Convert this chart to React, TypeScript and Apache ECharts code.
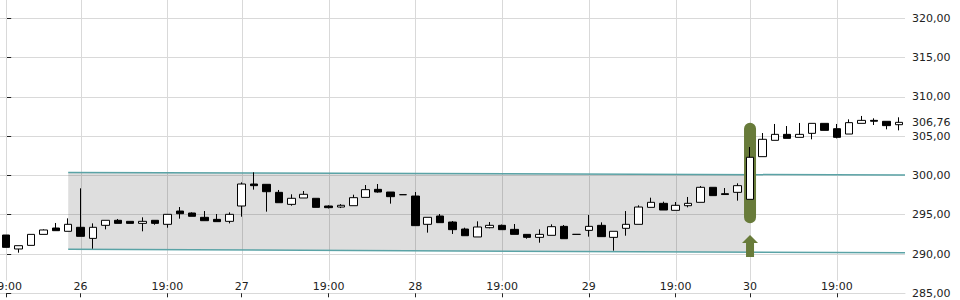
import React, { useEffect, useRef } from 'react';
import * as echarts from 'echarts';

// [open, close, low, high]
const candles: number[][] = [
  [292.42, 290.85, 290.85, 292.42],
  [290.64, 291.06, 290.17, 291.06],
  [291.10, 292.50, 291.10, 292.50],
  [292.50, 293.06, 292.50, 293.14],
  [293.31, 292.97, 292.97, 293.95],
  [292.89, 293.78, 292.89, 294.54],
  [293.40, 292.25, 292.25, 298.36],
  [291.99, 293.40, 290.68, 293.90],
  [293.65, 294.29, 293.14, 294.29],
  [294.29, 293.90, 293.90, 294.46],
  [294.16, 293.90, 293.90, 294.16],
  [293.90, 294.16, 292.89, 294.67],
  [294.29, 293.90, 293.73, 294.29],
  [293.78, 295.05, 293.35, 295.05],
  [295.47, 295.13, 294.50, 295.98],
  [295.22, 294.80, 294.80, 295.30],
  [294.67, 294.24, 294.24, 295.47],
  [294.41, 294.12, 294.12, 295.09],
  [294.16, 295.05, 293.90, 295.30],
  [296.11, 298.91, 294.75, 299.12],
  [298.91, 298.70, 298.19, 300.40],
  [298.87, 297.93, 295.39, 298.87],
  [297.85, 296.53, 296.53, 298.15],
  [296.32, 297.09, 296.15, 297.60],
  [297.13, 297.60, 297.13, 298.02],
  [297.09, 295.94, 295.94, 297.09],
  [296.11, 295.90, 295.80, 296.20],
  [295.98, 296.20, 295.85, 296.35],
  [296.15, 297.17, 296.15, 297.55],
  [297.21, 298.19, 297.21, 298.78],
  [298.23, 297.89, 297.81, 298.91],
  [297.89, 297.30, 296.41, 297.89],
  [297.55, 297.55, 297.55, 297.55],
  [297.38, 293.61, 293.61, 297.89],
  [293.78, 294.67, 292.72, 294.67],
  [294.84, 293.99, 293.99, 295.09],
  [294.07, 293.10, 292.55, 294.20],
  [293.18, 292.33, 292.33, 293.35],
  [292.17, 293.44, 292.17, 294.16],
  [293.35, 293.65, 293.27, 294.07],
  [293.65, 293.10, 293.10, 293.75],
  [293.14, 292.50, 292.50, 293.82],
  [292.50, 292.12, 291.95, 292.50],
  [292.12, 292.50, 291.44, 293.14],
  [292.38, 293.48, 292.38, 293.78],
  [293.52, 291.95, 291.95, 293.69],
  [292.50, 292.50, 292.50, 292.50],
  [293.01, 293.52, 292.21, 294.97],
  [293.65, 292.21, 292.21, 294.03],
  [292.12, 292.89, 290.43, 292.89],
  [293.27, 293.78, 292.33, 295.47],
  [293.78, 295.98, 293.78, 296.20],
  [295.94, 296.58, 295.94, 297.17],
  [296.45, 295.60, 295.60, 296.66],
  [295.56, 296.20, 295.56, 296.62],
  [296.15, 296.45, 295.94, 297.26],
  [296.58, 298.49, 296.58, 298.66],
  [298.49, 297.43, 297.43, 298.49],
  [297.68, 297.57, 297.57, 298.40],
  [297.85, 298.70, 296.79, 299.00],
  [296.96, 302.31, 296.96, 303.62],
  [302.39, 304.60, 302.39, 305.40],
  [304.47, 305.23, 304.47, 306.55],
  [305.23, 304.72, 304.72, 306.29],
  [304.85, 305.23, 304.85, 306.68],
  [305.36, 306.63, 304.60, 306.63],
  [306.63, 305.74, 305.74, 306.63],
  [305.95, 304.85, 304.72, 306.55],
  [305.27, 306.72, 305.27, 307.14],
  [306.63, 307.01, 306.63, 307.57],
  [307.01, 306.90, 306.42, 307.27],
  [306.89, 306.34, 305.87, 306.89],
  [306.46, 306.76, 305.74, 307.40],
];

const categories: string[] = candles.map((_, i) => String(i));

// x-axis labels: category index -> text
const tickIndex = [0, 6, 13, 19, 26, 33, 40, 47, 54, 60, 67];
const tickText = ['19:00', '26', '19:00', '27', '19:00', '28', '19:00', '29', '19:00', '30', '19:00'];

// y axis
const yMin = 285;
const yMax = 322.33;
const yTicks = [285, 290, 295, 300, 305, 310, 315, 320];
const lastPrice = 306.76;
const vGridBottom = 286.6;

// trend channel [xIndex, value]
const channelTop = [[5, 300.37], [72.5, 300.05]];
const channelBottom = [[5, 290.6], [72.5, 290.15]];
const channelFill = [[5, 290.6], [5, 300.37], [60, 300.11], [60, 290.23]];

// highlight pill [index, top, bottom] and arrow tip [index, value]
const highlight = [[60, 306.71, 293.9]];
const arrowTip = [[60, 292.42]];

const labelMap: Record<number, string> = {};
tickIndex.forEach((i, k) => { labelMap[i] = tickText[k]; });

const fmt = (v: number) => v.toFixed(2).replace('.', ',');

const GRID_COLOR = '#d9d9d9';
const GREEN = '#687b3a';
const TEAL = '#5aa3a6';

export default function App() {
  const ref = useRef<HTMLDivElement>(null);

  useEffect(() => {
    if (!ref.current) return;
    const chart = echarts.init(ref.current, null, { renderer: 'svg' });
    const isTick = (i: number) => labelMap[i] !== undefined;
    const option: any = {
      animation: false,
      textStyle: { fontFamily: 'DejaVu Sans' },
      grid: { left: 0, right: 55, top: 0, bottom: 6.7, containLabel: false, outerBoundsMode: 'none' },
      xAxis: [
        {
          type: 'category',
          data: categories,
          boundaryGap: true,
          axisLine: { show: true, lineStyle: { color: GRID_COLOR, width: 1 } },
          axisTick: {
            show: true,
            inside: false,
            length: 4,
            alignWithLabel: true,
            interval: (i: number) => isTick(i),
            lineStyle: { color: '#222' },
          },
          axisLabel: {
            inside: true,
            interval: (i: number) => isTick(i),
            formatter: (_v: string, i: number) => labelMap[i] ?? '',
            fontSize: 11,
            color: '#222',
            margin: 1,
            fontFamily: 'DejaVu Sans',
          },
          splitLine: { show: false },
        },
        { type: 'value', min: -0.5, max: 72.5, show: false },
      ],
      yAxis: {
        type: 'value',
        position: 'right',
        min: yMin,
        max: yMax,
        interval: 5,
        offset: 3,
        axisLine: { show: false },
        axisTick: {
          show: true,
          length: 5,
          customValues: yTicks,
          lineStyle: { color: '#222' },
        },
        axisLabel: {
          customValues: [...yTicks, lastPrice],
          formatter: (v: number) => fmt(v),
          fontSize: 11,
          color: '#222',
          margin: 4,
          fontFamily: 'DejaVu Sans',
        },
        splitLine: { show: true, lineStyle: { color: GRID_COLOR, width: 1 } },
      },
      series: [
        {
          type: 'custom',
          name: 'vgrid',
          xAxisIndex: 0,
          yAxisIndex: 0,
          z: 1,
          silent: true,
          clip: false,
          data: tickIndex.map((i) => [i, vGridBottom]),
          encode: { x: 0, y: 1 },
          renderItem: (_p: any, api: any) => {
            const top = api.coord([api.value(0), yMax]);
            const bot = api.coord([api.value(0), vGridBottom]);
            const x = Math.round(top[0]) + 0.5;
            return {
              type: 'line',
              shape: { x1: x, y1: top[1], x2: x, y2: bot[1] },
              style: { stroke: GRID_COLOR, lineWidth: 1 },
            };
          },
        },
        {
          type: 'custom',
          name: 'channelFill',
          xAxisIndex: 1,
          yAxisIndex: 0,
          z: 2,
          silent: true,
          data: [channelFill[0]],
          encode: { x: 0, y: 1 },
          renderItem: (_p: any, api: any) => ({
            type: 'polygon',
            shape: { points: channelFill.map((p) => api.coord(p)) },
            style: { fill: 'rgba(0,0,0,0.13)' },
          }),
        },
        {
          type: 'line',
          name: 'channelTop',
          xAxisIndex: 1,
          yAxisIndex: 0,
          z: 3,
          silent: true,
          symbol: 'none',
          data: channelTop,
          lineStyle: { color: TEAL, width: 1.5 },
        },
        {
          type: 'line',
          name: 'channelBottom',
          xAxisIndex: 1,
          yAxisIndex: 0,
          z: 3,
          silent: true,
          symbol: 'none',
          data: channelBottom,
          lineStyle: { color: TEAL, width: 1.5 },
        },
        {
          type: 'custom',
          name: 'highlight',
          xAxisIndex: 0,
          yAxisIndex: 0,
          z: 4,
          silent: true,
          data: highlight,
          encode: { x: 0, y: [1, 2] },
          renderItem: (_p: any, api: any) => {
            const top = api.coord([api.value(0), api.value(1)]);
            const bot = api.coord([api.value(0), api.value(2)]);
            return {
              type: 'rect',
              shape: { x: top[0] - 6, y: top[1], width: 12, height: bot[1] - top[1], r: 6 },
              style: { fill: GREEN },
            };
          },
        },
        {
          type: 'custom',
          name: 'arrow',
          xAxisIndex: 0,
          yAxisIndex: 0,
          z: 4,
          silent: true,
          data: arrowTip,
          encode: { x: 0, y: 1 },
          renderItem: (_p: any, api: any) => {
            const t = api.coord([api.value(0), api.value(1)]);
            const x = t[0];
            const y = t[1];
            return {
              type: 'polygon',
              shape: {
                points: [
                  [x, y], [x + 8, y + 8], [x + 4, y + 8], [x + 4, y + 22],
                  [x - 4, y + 22], [x - 4, y + 8], [x - 8, y + 8],
                ],
              },
              style: { fill: GREEN },
            };
          },
        },
        {
          type: 'candlestick',
          name: 'price',
          xAxisIndex: 0,
          yAxisIndex: 0,
          z: 5,
          barWidth: 8,
          data: candles,
          itemStyle: {
            color: '#ffffff',
            color0: '#000000',
            borderColor: '#000000',
            borderColor0: '#000000',
            borderColorDoji: '#000000',
            borderWidth: 1,
          },
        },
      ],
    };
    chart.setOption(option);
    return () => chart.dispose();
  }, []);

  return (
    <div
      ref={ref}
      style={{ position: 'absolute', left: 0, top: 0, width: 960, height: 300, background: '#fff' }}
    />
  );
}
